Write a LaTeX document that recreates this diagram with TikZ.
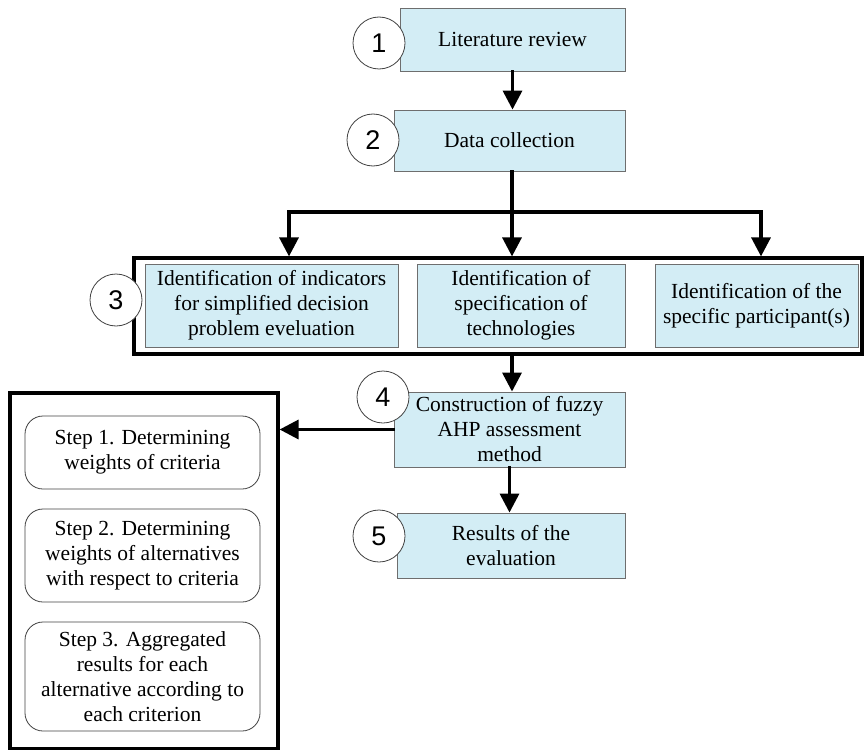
\documentclass[tikz,border=0pt]{standalone}
\usepackage{fontspec}
\setmainfont{Liberation Serif}
\newfontfamily\numfont{Liberation Sans}
\usetikzlibrary{arrows.meta,positioning}
\definecolor{boxblue}{HTML}{D3EDF5}
\definecolor{edgegray}{HTML}{6E6E6E}
\tikzset{
  bx/.style={draw=edgegray,line width=0.9pt,fill=boxblue,align=center,inner sep=0pt,font=\fontsize{21.5}{25}\selectfont},
  num/.style={circle,draw=black!75,line width=0.8pt,fill=white,minimum size=52pt,inner sep=0pt,font=\numfont\fontsize{27}{27}\selectfont},
  rnd/.style={draw=black!75,line width=0.8pt,rounded corners=18pt,align=center,inner sep=0pt,font=\fontsize{21.5}{25}\selectfont},
  frm/.style={draw,line width=3.2pt,inner sep=0pt},
  ar/.style={-{Triangle[length=19pt,width=19pt]},line width=3.4pt,line cap=rect}
}
\begin{document}
\begin{tikzpicture}[x=1pt,y=-1pt]
\useasboundingbox (0,0) rectangle (864,749);
% main boxes
\node[bx,minimum width=225pt,minimum height=63pt] (lit) at (512.5,39.5) {Literature review};
\node[bx,minimum width=231pt,minimum height=61pt] (dat) at (509.5,140.5) {Data collection};
\node[frm,minimum width=728pt,minimum height=96pt] (grp) at (498,306) {};
\node[bx,minimum width=253pt,minimum height=83pt] (ind) at (271.5,305.5) {Identification of indicators\\for simplified decision\\problem eveluation};
\node[bx,minimum width=208pt,minimum height=83pt] (spe) at (521,305.5) {Identification of\\specification of\\technologies};
\node[bx,minimum width=203pt,minimum height=83pt] (par) at (756.5,305.5) {Identification of the\\specific participant(s)};
\node[bx,minimum width=231pt,minimum height=75pt] (con) at (509.5,429.5) {Construction of fuzzy\\AHP assessment\\method};
\node[bx,minimum width=228pt,minimum height=65pt] (res) at (511,545.5) {Results of the\\evaluation};
% steps of the method
\node[frm,minimum width=268pt,minimum height=356pt] (stp) at (144,571) {};
\node[rnd,minimum width=235pt,minimum height=73pt] (s1) at (142.5,452.5) {Step 1. Determining\\weights of criteria};
\node[rnd,minimum width=235pt,minimum height=93pt] (s2) at (142.5,555.5) {Step 2. Determining\\weights of alternatives\\with respect to criteria};
\node[rnd,minimum width=235pt,minimum height=109pt] (s3) at (142.5,676.5) {Step 3. Aggregated\\results for each\\alternative according to\\each criterion};
% connectors
\coordinate (bl) at (289,212);
\coordinate (bm) at (512,212);
\coordinate (br) at (761,212);
\draw[ar] (lit.south) -- (lit.south |- dat.north);
\draw[ar] (bm |- dat.south) -- (bm |- grp.north);
\draw[ar] (bl) -- (br) -- (br |- grp.north);
\draw[ar] (bl) -- (bl |- grp.north);
\draw[ar] (bm |- grp.south) -- (bm |- con.north);
\draw[ar] (con.south) -- (con.south |- res.north);
\draw[ar] (con.west) -- (con.west -| stp.east);
% step numbers
\node[num] (n1) at (379,43) {1};
\node[num] (n2) at (373,140) {2};
\node[num] (n3) at (116,300) {3};
\node[num] (n4) at (383,397) {4};
\node[num] (n5) at (379,536) {5};
\end{tikzpicture}
\end{document}
